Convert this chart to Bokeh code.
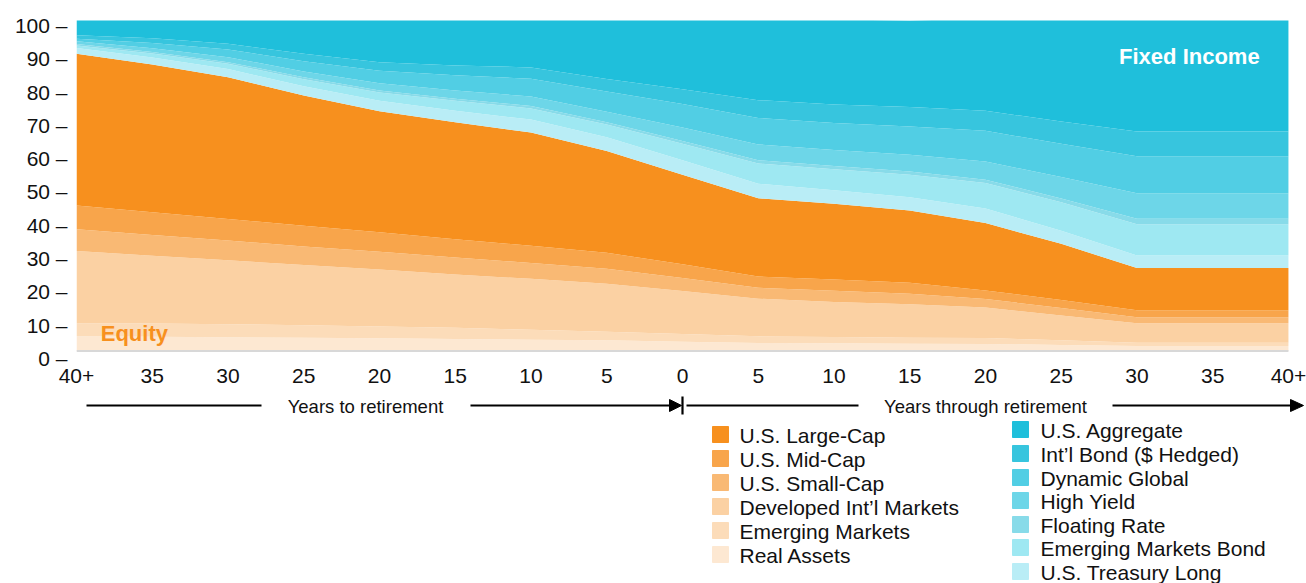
from bokeh.plotting import figure
from bokeh.models import ColumnDataSource, Range1d, LinearAxis, FixedTicker, Label
from bokeh.layouts import column
from bokeh.embed import file_html
from bokeh.resources import INLINE
from bokeh.core.properties import value

FONT = "Liberation Sans"

# ---------------- data ----------------
years = [-40, -35, -30, -25, -20, -15, -10, -5, 0, 5, 10, 15, 20, 25, 30, 35, 40]
x_tick_labels = ["40+", "35", "30", "25", "20", "15", "10", "5", "0",
                 "5", "10", "15", "20", "25", "30", "35", "40+"]
y_ticks = [0, 10, 20, 30, 40, 50, 60, 70, 80, 90, 100]
y_tick_labels = ["0 –", "10 –", "20 –", "30 –", "40 –", "50 –",
                 "60 –", "70 –", "80 –", "90 –", "100 –"]

# equity (bottom -> top of the stack)
real_assets    = [4.4, 4.3, 4.1, 4.0, 3.8, 3.6, 3.4, 3.2, 2.8, 2.4, 2.3, 2.2, 2.1, 1.8, 1.5, 1.5, 1.5]
emerging_mkts  = [4.0, 4.0, 4.0, 3.8, 3.6, 3.4, 3.0, 2.6, 2.3, 2.0, 1.9, 1.8, 1.8, 1.4, 1.0, 1.0, 1.0]
developed_intl = [21.8, 20.5, 19.3, 18.2, 17.2, 16.1, 15.4, 14.5, 13.0, 11.4, 10.6, 10.1, 9.2, 7.5, 5.9, 5.9, 5.9]
small_cap      = [6.6, 6.3, 6.0, 5.6, 5.4, 5.2, 4.8, 4.6, 4.0, 3.3, 3.4, 3.2, 2.6, 2.3, 1.8, 1.8, 1.8]
mid_cap        = [7.2, 6.9, 6.5, 6.3, 5.9, 5.5, 5.2, 4.8, 4.1, 3.4, 3.4, 3.3, 2.6, 2.4, 2.1, 2.1, 2.1]
large_cap      = [45.9, 44.7, 42.9, 39.4, 36.6, 35.4, 34.3, 30.8, 27.1, 23.7, 22.9, 21.9, 20.4, 17.0, 12.8, 12.8, 12.8]
# fixed income (continuing the stack upward)
treasury_long  = [1.8, 2.1, 2.5, 2.8, 3.2, 3.5, 3.9, 4.2, 4.4, 4.4, 4.1, 4.0, 4.4, 4.0, 3.8, 3.8, 3.8]
em_bond        = [0.7, 1.2, 1.6, 2.1, 2.5, 3.0, 3.4, 3.8, 5.0, 6.1, 6.4, 6.8, 7.7, 8.6, 9.4, 9.4, 9.4]
floating_rate  = [0.5, 0.5, 0.5, 0.6, 0.6, 0.6, 0.7, 0.7, 0.8, 1.0, 1.0, 1.0, 1.0, 1.1, 1.7, 1.7, 1.7]
high_yield     = [0.8, 1.1, 1.5, 1.8, 2.2, 2.5, 2.9, 3.2, 4.1, 4.8, 4.8, 5.1, 5.5, 6.5, 7.7, 7.7, 7.7]
dynamic_global = [0.8, 1.6, 2.3, 3.1, 3.8, 4.6, 5.4, 6.1, 7.1, 8.0, 8.2, 8.5, 9.3, 10.1, 11.2, 11.2, 11.2]
intl_bond      = [1.0, 1.4, 1.8, 2.2, 2.6, 3.0, 3.4, 3.8, 4.5, 5.4, 5.6, 5.9, 6.1, 6.7, 7.5, 7.5, 7.5]
us_aggregate   = [4.7, 5.7, 7.3, 10.4, 12.9, 13.8, 14.6, 17.9, 21.1, 24.5, 25.7, 26.2, 27.8, 30.9, 33.9, 33.9, 33.9]

stack_keys = ["real", "em", "dev", "small", "mid", "large",
              "tl", "emb", "fr", "hy", "dg", "intl", "agg"]
stack_values = [real_assets, emerging_mkts, developed_intl, small_cap, mid_cap, large_cap,
                treasury_long, em_bond, floating_rate, high_yield, dynamic_global, intl_bond, us_aggregate]
stack_names = ["Real Assets", "Emerging Markets", "Developed Int’l Markets", "U.S. Small-Cap",
               "U.S. Mid-Cap", "U.S. Large-Cap",
               "U.S. Treasury Long", "Emerging Markets Bond", "Floating Rate", "High Yield",
               "Dynamic Global", "Int’l Bond ($ Hedged)", "U.S. Aggregate"]
stack_colors = ["#fde8d2", "#fcdcb9", "#fbd1a3", "#f9b974", "#f8a54b", "#f7901e",
                "#b9edf6", "#9ee8f2", "#88dbe9", "#6dd6e8", "#51cee4", "#37c5de", "#1fbfdb"]

# ---------------- main chart ----------------
data = {"x": years}
for k, v in zip(stack_keys, stack_values):
    data[k] = v
src = ColumnDataSource(data)

# frame spans page x 76..1304; the data (−40..40) ends at page x 1288
p = figure(width=1306, height=392, x_range=Range1d(-40, 41.06), y_range=Range1d(-2.3, 100),
           output_backend="svg", toolbar_location=None,
           x_axis_location="below", y_axis_location=None,
           min_border_left=76, min_border_right=2, min_border_top=20, min_border_bottom=34)
p.outline_line_color = None
p.grid.visible = False
p.background_fill_color = "white"
p.border_fill_color = "white"

p.varea_stack(stackers=stack_keys, x="x", color=stack_colors, source=src)

# light grey base line
p.line(x=[years[0], years[-1]], y=[0, 0], line_color="#d8d8d8", line_width=2)

# y axis with labels like "100 –"
p.extra_y_ranges = {"lab": Range1d(-0.01, 101.5)}
yax = LinearAxis(y_range_name="lab", ticker=FixedTicker(ticks=y_ticks),
                 major_label_overrides={t: s for t, s in zip(y_ticks, y_tick_labels)})
yax.axis_line_color = None
yax.major_tick_line_color = None
yax.minor_tick_line_color = None
yax.major_tick_out = 0
yax.major_label_standoff = 9
yax.major_label_text_font = FONT
yax.major_label_text_font_size = "21px"
yax.major_label_text_color = "#111111"
p.add_layout(yax, "left")

xax = p.xaxis[0]
xax.ticker = FixedTicker(ticks=years)
xax.major_label_overrides = {t: s for t, s in zip(years, x_tick_labels)}
xax.axis_line_color = None
xax.major_tick_line_color = None
xax.minor_tick_line_color = None
xax.major_tick_out = 0
xax.major_label_standoff = 10
xax.major_label_text_font = FONT
xax.major_label_text_font_size = "21px"
xax.major_label_text_color = "#111111"

p.add_layout(Label(x=-38.4, y=5.3, text="Equity", text_align="left", text_baseline="middle",
                   text_font=FONT, text_font_size="22px", text_font_style="bold",
                   text_color="#f7901e"))
p.add_layout(Label(x=38.1, y=89.1, text="Fixed Income", text_align="right", text_baseline="middle",
                   text_font=FONT, text_font_size="22px", text_font_style="bold",
                   text_color="white"))
p.add_layout(Label(x=-46.9, y=103.6, text="Percent (%)", text_align="left", text_baseline="bottom",
                   text_font=FONT, text_font_size="20px", text_color="#111111"))

# ---------------- lower panel: arrows + legend (page-pixel coordinates) ----------------
q = figure(width=1306, height=191, x_range=Range1d(76, 1304), y_range=Range1d(583, 392),
           output_backend="svg", toolbar_location=None,
           x_axis_location=None, y_axis_location=None,
           min_border_left=76, min_border_right=2, min_border_top=0, min_border_bottom=0)
q.outline_line_color = None
q.grid.visible = False
q.background_fill_color = "white"
q.border_fill_color = "white"

q.segment(x0=[86, 470, 686, 1112], y0=[405, 405, 405, 405],
          x1=[261, 672, 858, 1292], y1=[405, 405, 405, 405],
          line_color="black", line_width=2.2)
q.segment(x0=[682], y0=[396], x1=[682], y1=[414], line_color="black", line_width=2.2)
q.patches(xs=[[669, 681, 669], [1290, 1303, 1290]], ys=[[399, 405, 411], [399, 405, 411]],
          color="black")
q.text(x=[365, 985], y=[406, 406], text=["Years to retirement", "Years through retirement"],
       text_align="center", text_baseline="middle", text_font=value(FONT),
       text_font_size="18.5px", text_color="#111111")

left_idx = [5, 4, 3, 2, 1, 0]
right_idx = [12, 11, 10, 9, 8, 7, 6]
left_y = [434, 458, 482, 506, 530, 554]
right_y = [429, 453, 477, 500, 524, 547, 571]

q.rect(x=[720] * len(left_idx), y=left_y, width=16, height=16,
       color=[stack_colors[i] for i in left_idx])
q.text(x=[739] * len(left_idx), y=[v + 1 for v in left_y], text=[stack_names[i] for i in left_idx],
       text_align="left", text_baseline="middle", text_font=value(FONT),
       text_font_size="21px", text_color="#111111")
q.rect(x=[1020] * len(right_idx), y=right_y, width=16, height=16,
       color=[stack_colors[i] for i in right_idx])
q.text(x=[1040] * len(right_idx), y=[v + 1 for v in right_y], text=[stack_names[i] for i in right_idx],
       text_align="left", text_baseline="middle", text_font=value(FONT),
       text_font_size="21px", text_color="#111111")

layout = column(p, q, spacing=0)
open("out.html", "w").write(file_html(layout, INLINE))
